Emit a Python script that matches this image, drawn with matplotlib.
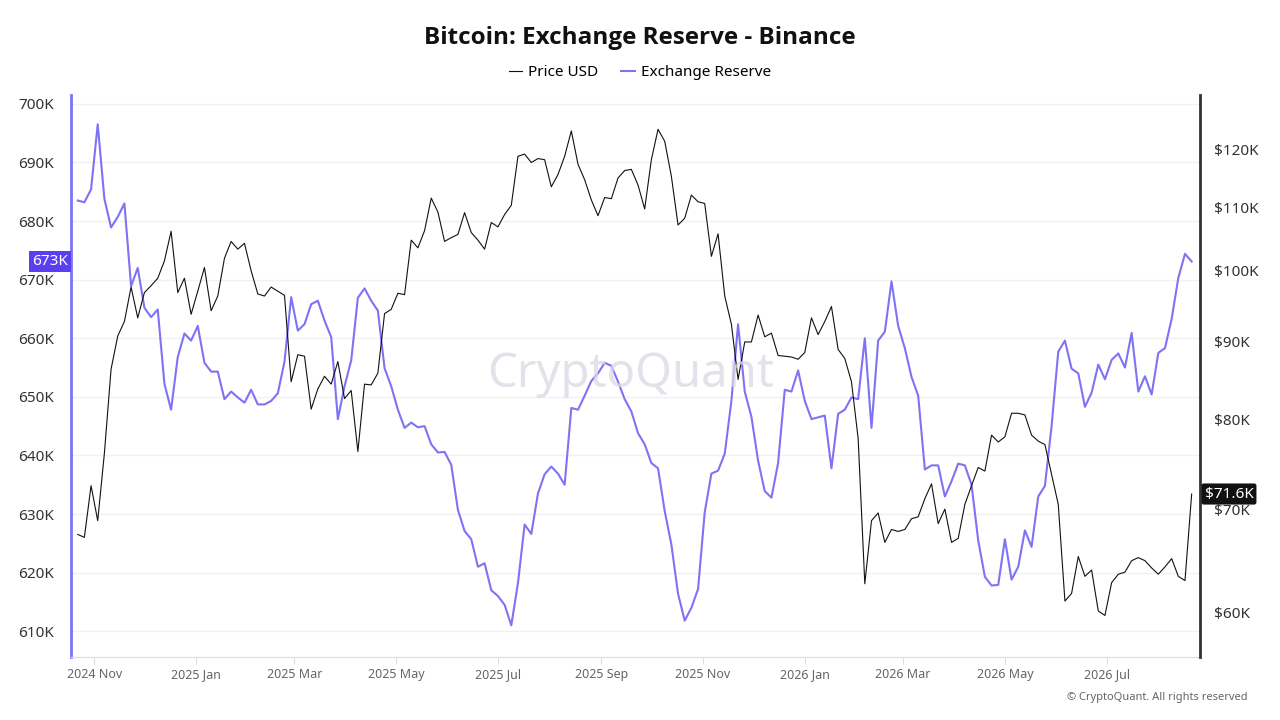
import pandas as pd
import matplotlib
matplotlib.use("Agg")
import matplotlib.pyplot as plt
import matplotlib.dates as mdates
import matplotlib.ticker as mticker
import matplotlib.transforms as mtrans

plt.rcParams["font.family"] = ["Noto Sans", "DejaVu Sans"]

# readings every 4 days, starting 2024-10-22
START = "2024-10-22"
STEP = "4D"

# Bitcoin price, thousand USD
price_k = [
    67.4, 67.1, 72.5, 68.8, 76.1, 86.3, 90.7, 92.7, 97.6, 93.2, 96.8, 97.8, 98.9, 101.5, 106.1,
    96.8, 98.9, 93.7, 97.0, 100.5, 94.2, 96.3, 101.9, 104.5, 103.3, 104.2, 100.0, 96.6, 96.3,
    97.6, 97.0, 96.4, 84.7, 88.2, 88.0, 81.3, 83.8, 85.4, 84.4, 87.3, 82.6, 83.6, 76.3,
    84.4, 84.3, 85.8, 93.8, 94.4, 96.7, 96.5, 104.7, 103.5, 106.2, 111.5, 109.2, 104.5, 105.1,
    105.6, 109.1, 105.9, 104.7, 103.3, 107.5, 106.8, 108.8, 110.3, 118.7, 119.1, 117.6, 118.3, 118.1,
    113.4, 115.5, 118.7, 123.3, 117.3, 114.6, 111.2, 108.6, 111.6, 111.4, 114.9, 116.2, 116.4, 113.7,
    109.7, 118.1, 123.6, 121.4, 115.2, 107.1, 108.2, 112.0, 110.9, 110.6, 102.2, 105.7, 96.3, 92.3,
    85.0, 89.9, 89.9, 93.6, 90.6, 91.1, 88.1, 88.0, 87.9, 87.6, 88.5, 93.2, 90.9, 92.7, 94.8,
    88.9, 87.7, 84.7, 77.8, 62.6, 68.8, 69.6, 66.6, 67.9, 67.7, 67.9, 69.0, 69.2, 71.1,
    72.7, 68.5, 70.0, 66.6, 67.0, 70.5, 72.5, 74.5, 74.1, 78.2, 77.4, 78.0, 80.8, 80.8,
    80.6, 78.2, 77.5, 77.1, 73.7, 70.5, 61.0, 61.7, 65.2, 63.3, 63.9, 60.1, 59.7,
    62.7, 63.5, 63.7, 64.8, 65.1, 64.8, 64.1, 63.5, 64.2, 65.0, 63.3, 62.9, 71.6,
]

# Binance BTC exchange reserve, thousand BTC
reserve_k = [
    683.5, 683.2, 685.4, 696.5, 683.8, 678.9, 680.7, 683.0, 668.9, 672.0, 665.2, 663.6, 664.9, 652.2, 647.8,
    656.8, 660.8, 659.6, 662.1, 655.8, 654.3, 654.3, 649.6, 650.9, 649.9, 649.0, 651.2, 648.7, 648.7,
    649.3, 650.6, 656.0, 667.0, 661.3, 662.4, 665.8, 666.4, 663.0, 660.2, 646.2, 651.8, 656.2, 666.9,
    668.5, 666.4, 664.7, 654.9, 651.8, 647.8, 644.7, 645.6, 644.8, 645.0, 641.9, 640.5, 640.6, 638.4,
    630.7, 627.1, 625.7, 621.0, 621.6, 617.0, 616.0, 614.5, 611.0, 618.2, 628.2, 626.6, 633.5, 636.8,
    638.1, 636.9, 635.0, 648.1, 647.8, 650.2, 652.7, 654.0, 655.8, 655.3, 652.6, 649.6, 647.5, 643.8,
    641.9, 638.7, 637.8, 630.5, 624.8, 616.4, 611.8, 614.0, 617.2, 630.3, 636.9, 637.4, 640.3, 649.3,
    662.4, 650.9, 646.6, 639.1, 633.9, 632.8, 638.7, 651.2, 650.9, 654.5, 649.3, 646.2, 646.5, 646.8, 637.8,
    647.1, 647.8, 649.9, 649.6, 660.0, 644.7, 659.6, 661.1, 669.7, 662.1, 658.3, 653.4, 650.2, 637.6,
    638.3, 638.3, 633.0, 635.6, 638.6, 638.3, 635.0, 625.5, 619.3, 617.8, 617.9, 625.7, 618.8, 621.0,
    627.2, 624.4, 633.0, 634.8, 645.0, 657.7, 659.6, 654.8, 654.0, 648.3, 650.7, 655.5, 653.0,
    656.3, 657.4, 655.0, 660.9, 650.9, 653.5, 650.4, 657.5, 658.3, 663.3, 670.3, 674.4, 673.1,
]

reserve_ticks = [610, 620, 630, 640, 650, 660, 670, 680, 690, 700]
price_ticks = [60, 70, 80, 90, 100, 110, 120]

PURPLE = "#7f72f4"
BOX_PURPLE = "#5a3ff0"

dates = pd.date_range(START, periods=len(price_k), freq=STEP)

fig = plt.figure(figsize=(12.8, 7.2), dpi=100)
ax = fig.add_axes([0.0555, 0.0875, 0.882, 0.7805])
ax2 = ax.twinx()

ax.plot(dates, reserve_k, color=PURPLE, lw=1.5, label="Exchange Reserve", zorder=2)
ax2.plot(dates, price_k, color="#111111", lw=0.8, label="Price USD", zorder=3)

ax.set_xlim(pd.Timestamp("2024-10-18"), pd.Timestamp("2026-08-26"))
ax.set_ylim(605.6, 701.5)
ax2.set_yscale("log")
ax2.set_ylim(56.1, 130.1)

ax.set_yticks(reserve_ticks)
ax.yaxis.set_major_formatter(mticker.FuncFormatter(lambda v, p: f"{v:.0f}K"))
ax.tick_params(axis="y", length=0, labelsize=11, labelcolor="#333333", pad=12)
ax.grid(axis="y", color="#f1f1f1", lw=1)
ax.set_axisbelow(True)

ax2.yaxis.set_major_locator(mticker.FixedLocator(price_ticks))
ax2.yaxis.set_minor_locator(mticker.NullLocator())
ax2.yaxis.set_major_formatter(mticker.FuncFormatter(lambda v, p: f"${v:.0f}K"))
ax2.tick_params(axis="y", length=0, labelsize=11, labelcolor="#333333", pad=10)

ax.xaxis.set_major_locator(mdates.MonthLocator(bymonth=[1, 3, 5, 7, 9, 11]))
ax.xaxis.set_major_formatter(mdates.DateFormatter("%Y %b"))
ax.tick_params(axis="x", length=5, color="#dddddd", labelsize=9, labelcolor="#666666", pad=3)

for a in (ax, ax2):
    a.spines["top"].set_visible(False)
ax2.spines["left"].set_visible(False)
ax2.spines["bottom"].set_visible(False)
ax.spines["right"].set_visible(False)
ax.spines["left"].set_color(PURPLE)
ax.spines["left"].set_linewidth(2)
ax2.spines["right"].set_color("#333333")
ax2.spines["right"].set_linewidth(2)
ax.spines["bottom"].set_color("#dddddd")

# last value badges
left_tr = mtrans.blended_transform_factory(ax.transAxes, ax.transData)
ax.text(-0.003, reserve_k[-1], f"{reserve_k[-1]:.0f}K", transform=left_tr, ha="right", va="center",
        color="white", fontsize=11, zorder=10,
        bbox=dict(boxstyle="square,pad=0.2", facecolor=BOX_PURPLE, edgecolor="none"))
right_tr = mtrans.blended_transform_factory(ax2.transAxes, ax2.transData)
ax2.text(1.004, price_k[-1], f"${price_k[-1]:.1f}K", transform=right_tr, ha="left", va="center",
         color="white", fontsize=11, zorder=10, clip_on=False,
         bbox=dict(boxstyle="round,pad=0.2,rounding_size=0.15", facecolor="#111111", edgecolor="none"))

fig.text(0.5, 0.947, "Bitcoin: Exchange Reserve - Binance", ha="center", va="center",
         fontsize=17.5, fontweight="bold", color="#111111",
         family=["Open Sans", "Liberation Sans", "DejaVu Sans"])
fig.legend(handles=ax2.get_lines() + ax.get_lines(), loc="center", bbox_to_anchor=(0.5, 0.899),
           ncol=2, frameon=False, fontsize=11, handlelength=0.9, handletextpad=0.4, columnspacing=1.5)

fig.text(0.493, 0.48, "CryptoQuant", ha="center", va="center", fontsize=34, color="#d9d9e3",
         alpha=0.75, zorder=0)
fig.text(0.975, 0.031, "© CryptoQuant. All rights reserved", ha="right", va="center",
         fontsize=8, color="#666666")

fig.savefig("out.png", dpi=100, facecolor="white")
